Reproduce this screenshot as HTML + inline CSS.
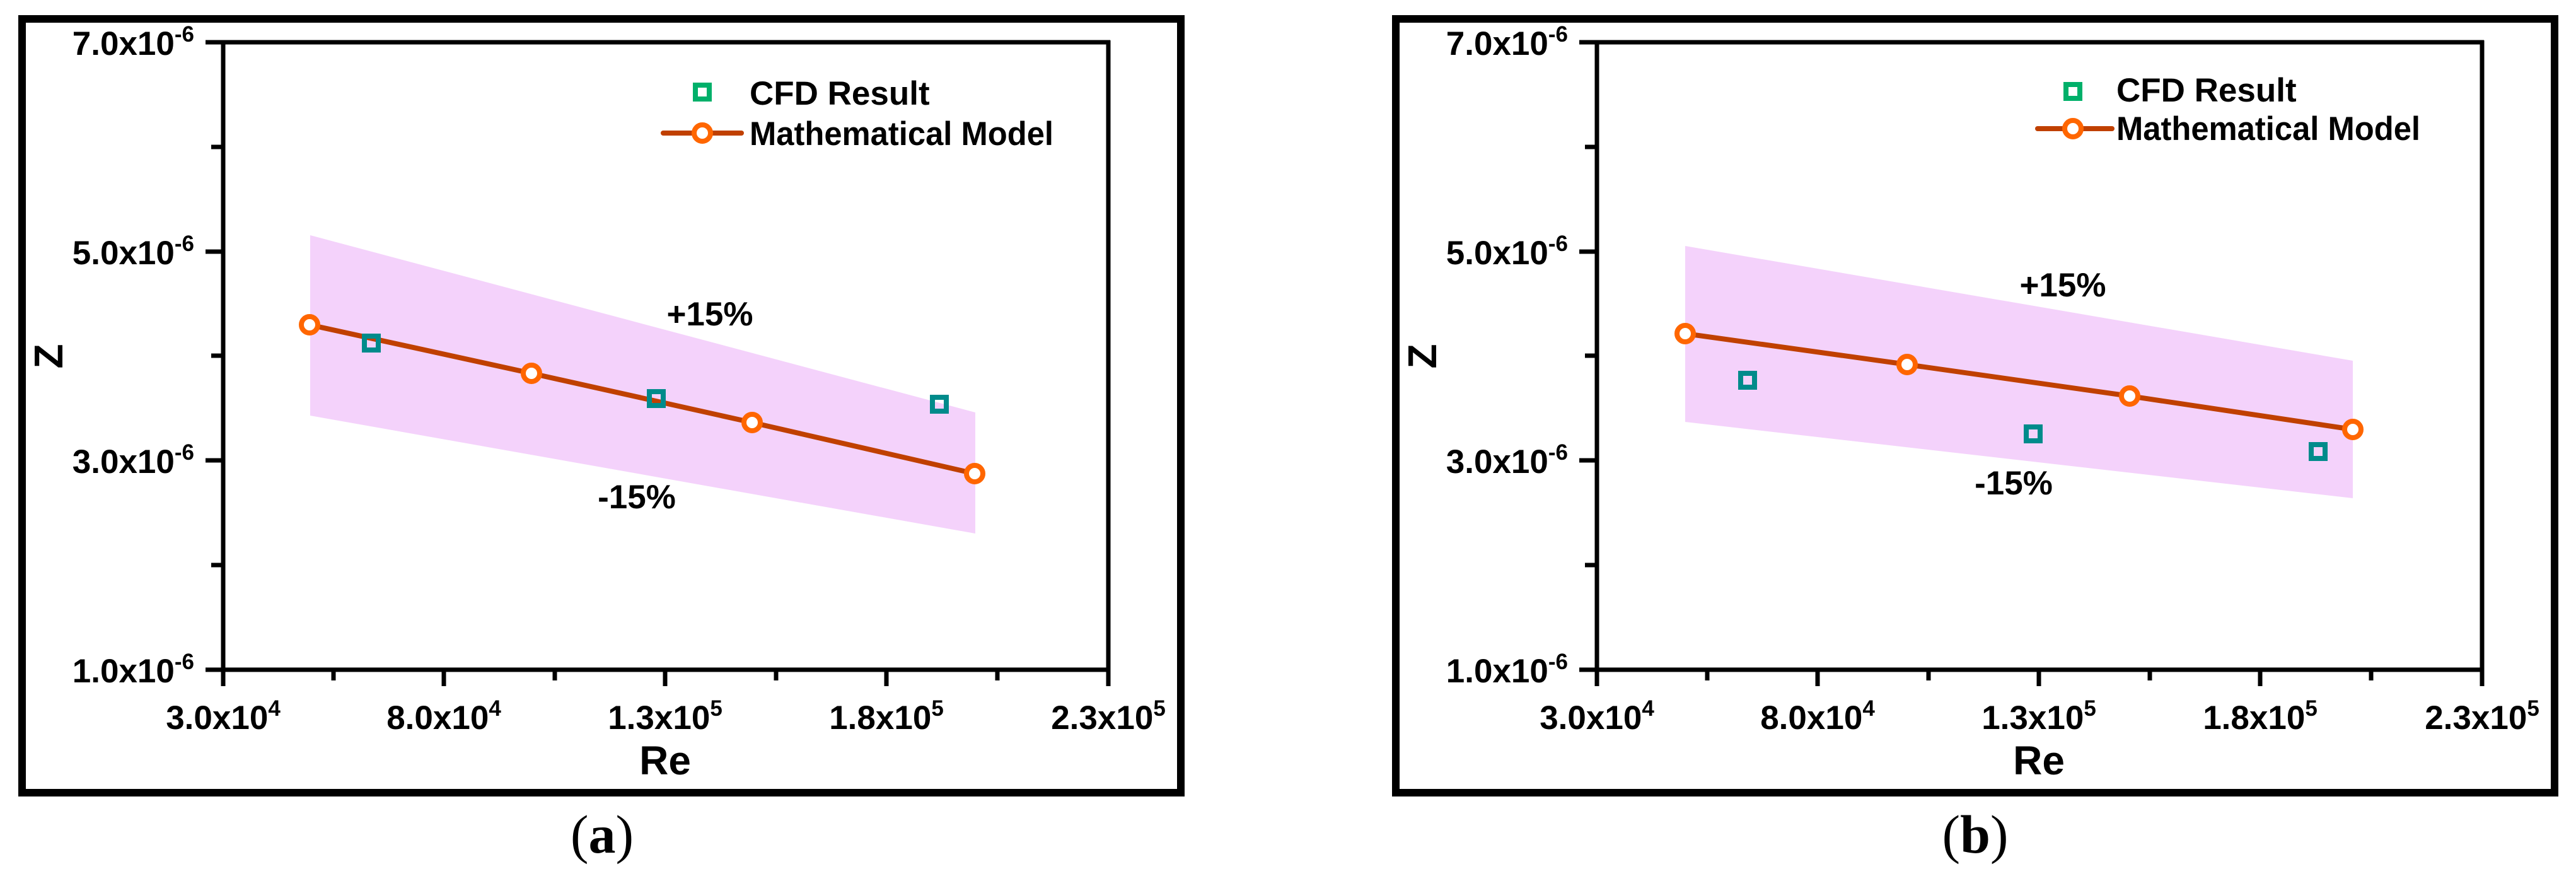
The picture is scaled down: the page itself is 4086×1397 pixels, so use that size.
<!DOCTYPE html>
<html><head><meta charset="utf-8"><style>html,body{margin:0;padding:0;background:#fff}svg{display:block}</style></head>
<body>
<svg xmlns="http://www.w3.org/2000/svg" width="4086" height="1397" viewBox="0 0 4086 1397" font-family="Liberation Sans, Arial, sans-serif" font-weight="bold">
<rect width="4086" height="1397" fill="#fff"/>
<defs>
<g id="axes">
  <g stroke="#000" stroke-width="7" fill="none">
    <line x1="326" y1="67" x2="1761" y2="67"/>
    <line x1="354" y1="64" x2="354" y2="1066"/>
    <line x1="1758" y1="64" x2="1758" y2="1066"/>
    <line x1="351" y1="1062" x2="1761" y2="1062"/>
    <line x1="326" y1="399" x2="354" y2="399"/>
    <line x1="326" y1="730" x2="354" y2="730"/>
    <line x1="326" y1="1062" x2="354" y2="1062"/>
    <line x1="335" y1="233" x2="354" y2="233"/>
    <line x1="335" y1="564" x2="354" y2="564"/>
    <line x1="335" y1="896" x2="354" y2="896"/>
    <line x1="354" y1="1062" x2="354" y2="1088"/>
    <line x1="704" y1="1062" x2="704" y2="1088"/>
    <line x1="1055" y1="1062" x2="1055" y2="1088"/>
    <line x1="1406" y1="1062" x2="1406" y2="1088"/>
    <line x1="1758" y1="1062" x2="1758" y2="1088"/>
    <line x1="529" y1="1062" x2="529" y2="1079"/>
    <line x1="880" y1="1062" x2="880" y2="1079"/>
    <line x1="1231" y1="1062" x2="1231" y2="1079"/>
    <line x1="1582" y1="1062" x2="1582" y2="1079"/>
  </g>
  <g font-size="53" text-anchor="end">
    <text x="308" y="87">7.0x10<tspan font-size="35" dy="-21">-6</tspan></text>
    <text x="308" y="419">5.0x10<tspan font-size="35" dy="-21">-6</tspan></text>
    <text x="308" y="750">3.0x10<tspan font-size="35" dy="-21">-6</tspan></text>
    <text x="308" y="1082">1.0x10<tspan font-size="35" dy="-21">-6</tspan></text>
  </g>
  <g font-size="53" text-anchor="middle">
    <text x="354" y="1156">3.0x10<tspan font-size="35" dy="-21">4</tspan></text>
    <text x="704" y="1156">8.0x10<tspan font-size="35" dy="-21">4</tspan></text>
    <text x="1055" y="1156">1.3x10<tspan font-size="35" dy="-21">5</tspan></text>
    <text x="1406" y="1156">1.8x10<tspan font-size="35" dy="-21">5</tspan></text>
    <text x="1758" y="1156">2.3x10<tspan font-size="35" dy="-21">5</tspan></text>
  </g>
  <text x="1055" y="1228" font-size="64" text-anchor="middle">Re</text>
  <text transform="translate(99,565) rotate(-90)" font-size="64" text-anchor="middle">Z</text>
</g>
</defs>

<!-- Panel a -->
<rect x="35" y="30" width="1838" height="1227" fill="none" stroke="#000" stroke-width="12"/>
<use href="#axes"/>
<polygon points="492,373 1547,654 1547,846 492,659" fill="#f4d2fb"/>
<polyline points="491,515 843,592 1193,670 1546,751" fill="none" stroke="#c04000" stroke-width="8"/>
<g fill="none" stroke="#008b8b" stroke-width="8">
<rect x="578" y="533" width="22" height="22"/>
<rect x="1030" y="621" width="22" height="22"/>
<rect x="1479" y="630" width="22" height="22"/>
</g>
<g fill="#fff" stroke="#ff6600" stroke-width="8">
<circle cx="491" cy="515" r="13"/><circle cx="843" cy="592" r="13"/><circle cx="1193" cy="670" r="13"/><circle cx="1546" cy="751" r="13"/>
</g>
<g font-size="53" text-anchor="middle">
<text x="1126" y="516">+15%</text>
<text x="1010" y="806">-15%</text>
</g>
<rect x="1103" y="135" width="22" height="22" fill="none" stroke="#00b06a" stroke-width="8"/>
<line x1="1052" y1="211" x2="1176" y2="211" stroke="#c04000" stroke-width="8" stroke-linecap="round"/>
<circle cx="1114" cy="211" r="13" fill="#fff" stroke="#ff6600" stroke-width="8"/>
<text x="1189" y="166" font-size="53">CFD Result</text>
<text x="1189" y="230" font-size="53" textLength="482" lengthAdjust="spacingAndGlyphs">Mathematical Model</text>
<text x="955" y="1352" font-size="86" text-anchor="middle" font-family="Liberation Serif, serif" font-weight="normal">(<tspan font-weight="bold">a</tspan>)</text>

<!-- Panel b -->
<rect x="2214" y="30" width="1838" height="1227" fill="none" stroke="#000" stroke-width="12"/>
<g transform="translate(2179,0)">
<use href="#axes"/>
<polygon points="494,390 1553,572 1553,790 494,669" fill="#f4d2fb"/>
<polyline points="494,529 846,578 1199,628 1553,681" fill="none" stroke="#c04000" stroke-width="8"/>
<g fill="none" stroke="#008b8b" stroke-width="8">
<rect x="582" y="592" width="22" height="22"/>
<rect x="1035" y="677" width="22" height="22"/>
<rect x="1487" y="705" width="22" height="22"/>
</g>
<g fill="#fff" stroke="#ff6600" stroke-width="8">
<circle cx="494" cy="529" r="13"/><circle cx="846" cy="578" r="13"/><circle cx="1199" cy="628" r="13"/><circle cx="1553" cy="681" r="13"/>
</g>
<g font-size="53" text-anchor="middle">
<text x="1093" y="470">+15%</text>
<text x="1015" y="784">-15%</text>
</g>
<rect x="1098" y="134" width="22" height="22" fill="none" stroke="#00b06a" stroke-width="8"/>
<line x1="1053" y1="204" x2="1171" y2="204" stroke="#c04000" stroke-width="8" stroke-linecap="round"/>
<circle cx="1109" cy="204" r="13" fill="#fff" stroke="#ff6600" stroke-width="8"/>
<text x="1178" y="161" font-size="53">CFD Result</text>
<text x="1178" y="222" font-size="53" textLength="482" lengthAdjust="spacingAndGlyphs">Mathematical Model</text>
</g>
<text x="3133" y="1352" font-size="86" text-anchor="middle" font-family="Liberation Serif, serif" font-weight="normal">(<tspan font-weight="bold">b</tspan>)</text>
</svg>
</body></html>
